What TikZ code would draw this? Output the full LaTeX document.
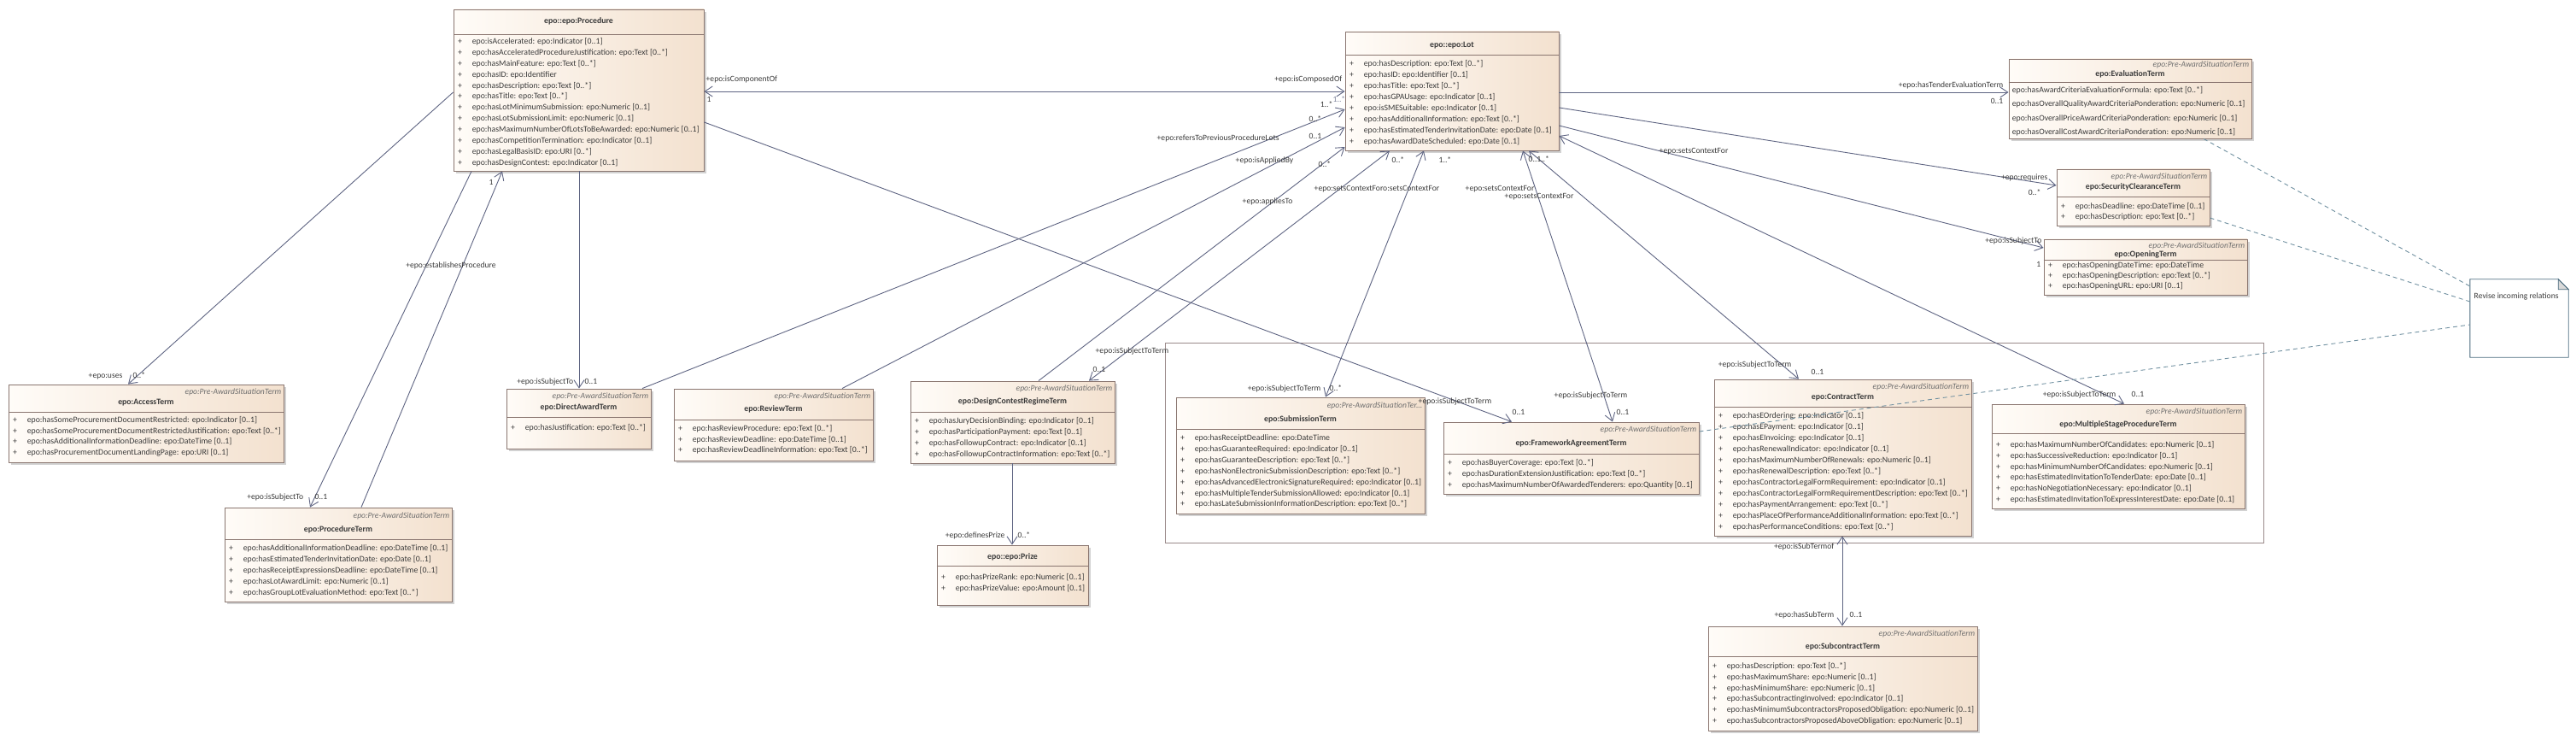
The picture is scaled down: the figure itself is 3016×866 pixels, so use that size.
\documentclass[tikz,border=0pt]{standalone}
\usepackage{fontspec}
\setmainfont{Carlito}
\usetikzlibrary{arrows.meta,fit,calc}
\definecolor{boxL}{HTML}{FFFCF8}
\definecolor{boxR}{HTML}{F3E1CF}
\definecolor{boxB}{HTML}{8A7670}
\definecolor{shad}{HTML}{D2D2D2}
\definecolor{txtc}{HTML}{3A3A3A}
\definecolor{stc}{HTML}{6E6E6E}
\definecolor{conc}{HTML}{5E6482}
\definecolor{dashc}{HTML}{7090A0}
\definecolor{frm}{HTML}{9A8A8A}
\definecolor{notb}{HTML}{4E6E80}
\tikzset{
  >={Straight Barb[length=9pt,width=12pt]},
  con/.style={draw=conc, line width=0.9pt},
  dsh/.style={draw=dashc, line width=0.9pt, dash pattern=on 5pt off 4pt},
  lbl/.style={inner sep=0.5pt, text=txtc, font=\fontsize{9.6}{11}\selectfont, text height=7pt, text depth=2pt},
  rowt/.style={inner sep=0pt, text=txtc, font=\fontsize{9.8}{11}\selectfont, text height=7pt, text depth=2pt},
  stereo/.style={inner sep=0pt, text=stc, font=\fontsize{9.6}{11}\selectfont\itshape, text height=7pt, text depth=2pt},
  ttl/.style={inner sep=0pt, text=txtc, font=\fontsize{9.8}{11}\selectfont\bfseries, text height=7pt, text depth=2pt},
}
\newcommand{\cbox}[5]{%
  \fill[shad] ({#2+3},{#3+3}) rectangle ({#4+3},{#5+3});
  \path[left color=boxL,right color=boxR] (#2,#3) rectangle (#4,#5);
  \node[draw=boxB, line width=0.9pt, inner sep=0pt, fit={(#2,#3) (#4,#5)}] (#1) {};
}
\newcommand{\cheadX}[6]{%
  \node[stereo, anchor=east, xshift=-3pt] (#1st) at (#1.east |- 0,#2) {#6};
  \node[ttl] (#1tt) at (#1.center |- 0,#3) {#5};
  \draw[draw=boxB, line width=0.9pt] (#1.west |- 0,#4) -- (#1.east |- 0,#4);
}
\newcommand{\cheadS}[5]{\cheadX{#1}{#2}{#3}{#4}{#5}{epo:Pre-AwardSituationTerm}}
\newcommand{\cheadN}[4]{%
  \node[ttl] (#1tt) at (#1.center |- 0,#2) {#4};
  \draw[draw=boxB, line width=0.9pt] (#1.west |- 0,#3) -- (#1.east |- 0,#3);
}
\newcommand{\crows}[4]{%
  \foreach \r [count=\i] in {#4} {
    \pgfmathsetmacro\yy{#2+(\i-1)*#3}
    \node[rowt, xshift=8pt] (#1p\i) at (#1.west |- 0,\yy) {+};
    \node[rowt, anchor=west, xshift=22pt] (#1r\i) at (#1.west |- 0,\yy) {\r};
  }
}
\newcommand{\crowsN}[4]{%
  \foreach \r [count=\i] in {#4} {
    \pgfmathsetmacro\yy{#2+(\i-1)*#3}
    \node[rowt, anchor=west, xshift=4pt] (#1r\i) at (#1.west |- 0,\yy) {\r};
  }
}
\begin{document}
\begin{tikzpicture}[x=1pt,y=-1pt]
\useasboundingbox (0,0) rectangle (3016,866);
\fill[white] (0,0) rectangle (3016,866);

% frame
\node[draw=frm, line width=0.8pt, inner sep=0pt, fit={(1364,401) (2650,635)}] (frame) {};

% ---------- boxes ----------
\cbox{proc}{531}{11}{824}{200}
\cheadN{proc}{25}{40}{epo::epo:Procedure}
\crows{proc}{49}{12.9}{epo:isAccelerated: epo:Indicator [0..1],epo:hasAcceleratedProcedureJustification: epo:Text [0..*],epo:hasMainFeature: epo:Text [0..*],epo:hasID: epo:Identifier,epo:hasDescription: epo:Text [0..*],epo:hasTitle: epo:Text [0..*],epo:hasLotMinimumSubmission: epo:Numeric [0..1],epo:hasLotSubmissionLimit: epo:Numeric [0..1],epo:hasMaximumNumberOfLotsToBeAwarded: epo:Numeric [0..1],epo:hasCompetitionTermination: epo:Indicator [0..1],epo:hasLegalBasisID: epo:URI [0..*],epo:hasDesignContest: epo:Indicator [0..1]}

\cbox{lot}{1575}{37}{1825}{176}
\cheadN{lot}{53}{64}{epo::epo:Lot}
\crows{lot}{75}{13}{epo:hasDescription: epo:Text [0..*],epo:hasID: epo:Identifier [0..1],epo:hasTitle: epo:Text [0..*],epo:hasGPAUsage: epo:Indicator [0..1],epo:isSMESuitable: epo:Indicator [0..1],epo:hasAdditionalInformation: epo:Text [0..*],epo:hasEstimatedTenderInvitationDate: epo:Date [0..1],epo:hasAwardDateScheduled: epo:Date [0..1]}

\cbox{evalt}{2352}{69}{2636}{162}
\cheadS{evalt}{76}{87}{96}{epo:EvaluationTerm}
\crowsN{evalt}{106}{16.3}{epo:hasAwardCriteriaEvaluationFormula: epo:Text [0..*],epo:hasOverallQualityAwardCriteriaPonderation: epo:Numeric [0..1],epo:hasOverallPriceAwardCriteriaPonderation: epo:Numeric [0..1],epo:hasOverallCostAwardCriteriaPonderation: epo:Numeric [0..1]}

\cbox{secu}{2408}{198}{2587}{264}
\cheadS{secu}{207}{219}{230}{epo:SecurityClearanceTerm}
\crows{secu}{242}{12}{epo:hasDeadline: epo:DateTime [0..1],epo:hasDescription: epo:Text [0..*]}

\cbox{open}{2393}{280}{2631}{345}
\cheadS{open}{288}{298}{304}{epo:OpeningTerm}
\crows{open}{311}{11.8}{epo:hasOpeningDateTime: epo:DateTime,epo:hasOpeningDescription: epo:Text [0..*],epo:hasOpeningURL: epo:URI [0..1]}

\cbox{acc}{10}{450}{332}{541}
\cheadS{acc}{459}{471}{482}{epo:AccessTerm}
\crows{acc}{492}{12.7}{epo:hasSomeProcurementDocumentRestricted: epo:Indicator [0..1],epo:hasSomeProcurementDocumentRestrictedJustification: epo:Text [0..*],epo:hasAdditionalInformationDeadline: epo:DateTime [0..1],epo:hasProcurementDocumentLandingPage: epo:URI [0..1]}

\cbox{dir}{593}{455}{762}{525}
\cheadS{dir}{464}{477}{488}{epo:DirectAwardTerm}
\crows{dir}{501}{12.7}{epo:hasJustification: epo:Text [0..*]}

\cbox{rev}{789}{455}{1022}{539}
\cheadS{rev}{464}{479}{491}{epo:ReviewTerm}
\crows{rev}{502}{12.7}{epo:hasReviewProcedure: epo:Text [0..*],epo:hasReviewDeadline: epo:DateTime [0..1],epo:hasReviewDeadlineInformation: epo:Text [0..*]}

\cbox{dcr}{1066}{446}{1305}{542}
\cheadS{dcr}{455}{470}{482}{epo:DesignContestRegimeTerm}
\crows{dcr}{493}{12.9}{epo:hasJuryDecisionBinding: epo:Indicator [0..1],epo:hasParticipationPayment: epo:Text [0..1],epo:hasFollowupContract: epo:Indicator [0..1],epo:hasFollowupContractInformation: epo:Text [0..*]}

\cbox{prize}{1097}{638}{1274}{708}
\cheadN{prize}{652}{662}{epo::epo:Prize}
\crows{prize}{676}{12.7}{epo:hasPrizeRank: epo:Numeric [0..1],epo:hasPrizeValue: epo:Amount [0..1]}

\cbox{subm}{1377}{465}{1668}{601}
\cheadX{subm}{475}{491}{502}{epo:SubmissionTerm}{epo:Pre-AwardSituationTer...}
\crows{subm}{513}{12.9}{epo:hasReceiptDeadline: epo:DateTime,epo:hasGuaranteeRequired: epo:Indicator [0..1],epo:hasGuaranteeDescription: epo:Text [0..*],epo:hasNonElectronicSubmissionDescription: epo:Text [0..*],epo:hasAdvancedElectronicSignatureRequired: epo:Indicator [0..1],epo:hasMultipleTenderSubmissionAllowed: epo:Indicator [0..1],epo:hasLateSubmissionInformationDescription: epo:Text [0..*]}

\cbox{fwk}{1690}{494}{1989}{578}
\cheadS{fwk}{503}{519}{531}{epo:FrameworkAgreementTerm}
\crows{fwk}{542}{13}{epo:hasBuyerCoverage: epo:Text [0..*],epo:hasDurationExtensionJustification: epo:Text [0..*],epo:hasMaximumNumberOfAwardedTenderers: epo:Quantity [0..1]}

\cbox{ctr}{2007}{444}{2308}{627}
\cheadS{ctr}{453}{465}{476}{epo:ContractTerm}
\crows{ctr}{487}{13}{epo:hasEOrdering: epo:Indicator [0..1],epo:hasEPayment: epo:Indicator [0..1],epo:hasEInvoicing: epo:Indicator [0..1],epo:hasRenewalIndicator: epo:Indicator [0..1],epo:hasMaximumNumberOfRenewals: epo:Numeric [0..1],epo:hasRenewalDescription: epo:Text [0..*],epo:hasContractorLegalFormRequirement: epo:Indicator [0..1],epo:hasContractorLegalFormRequirementDescription: epo:Text [0..*],epo:hasPaymentArrangement: epo:Text [0..*],epo:hasPlaceOfPerformanceAdditionalInformation: epo:Text [0..*],epo:hasPerformanceConditions: epo:Text [0..*]}

\cbox{msp}{2332}{473}{2628}{595}
\cheadS{msp}{482}{497}{507}{epo:MultipleStageProcedureTerm}
\crows{msp}{521}{12.8}{epo:hasMaximumNumberOfCandidates: epo:Numeric [0..1],epo:hasSuccessiveReduction: epo:Indicator [0..1],epo:hasMinimumNumberOfCandidates: epo:Numeric [0..1],epo:hasEstimatedInvitationToTenderDate: epo:Date [0..1],epo:hasNoNegotiationNecessary: epo:Indicator [0..1],epo:hasEstimatedInvitationToExpressInterestDate: epo:Date [0..1]}

\cbox{subc}{2000}{733}{2315}{855}
\cheadS{subc}{742}{757}{768}{epo:SubcontractTerm}
\crows{subc}{780}{12.8}{epo:hasDescription: epo:Text [0..*],epo:hasMaximumShare: epo:Numeric [0..1],epo:hasMinimumShare: epo:Numeric [0..1],epo:hasSubcontractingInvolved: epo:Indicator [0..1],epo:hasMinimumSubcontractorsProposedObligation: epo:Numeric [0..1],epo:hasSubcontractorsProposedAboveObligation: epo:Numeric [0..1]}

\cbox{pterm}{263}{594}{529}{704}
\cheadS{pterm}{604}{620}{631}{epo:ProcedureTerm}
\crows{pterm}{642}{13}{epo:hasAdditionalInformationDeadline: epo:DateTime [0..1],epo:hasEstimatedTenderInvitationDate: epo:Date [0..1],epo:hasReceiptExpressionsDeadline: epo:DateTime [0..1],epo:hasLotAwardLimit: epo:Numeric [0..1],epo:hasGroupLotEvaluationMethod: epo:Text [0..*]}

% note
\node[inner sep=0pt, fit={(2892,327) (3007,418)}] (note) {};
\draw[notb, fill=white, line width=0.9pt] (note.north west) -- ([xshift=-12pt]note.north east) -- ([yshift=-12pt]note.north east) -- (note.south east) -- (note.south west) -- cycle;
\filldraw[fill=gray!30, draw=notb, line width=0.9pt] ([xshift=-12pt]note.north east) -- ([xshift=-12pt,yshift=-12pt]note.north east) -- ([yshift=-12pt]note.north east) -- cycle;
\node[lbl, anchor=west, font=\fontsize{9.6}{11}\selectfont] (notetxt) at (2896,347) {Revise incoming relations};

% ---------- connectors ----------
\draw[con,<->] (proc.east |- 0,107) -- (lot.west |- 0,107);
\draw[con,->] (proc.west |- 0,108) -- (acc.north -| 150,0);
\draw[con,->] (proc.south -| 678,0) -- (dir.north -| 678,0);
\draw[con,->] (proc.south -| 552,0) -- (pterm.north -| 363,0);
\draw[con,->] (pterm.north -| 423,0) -- (proc.south -| 588,0);
\draw[con,->] (proc.east |- 0,143) -- (fwk.north -| 1770,0);
\draw[con,->] (dir.north -| 752,0) -- (lot.west |- 0,128);
\draw[con,->] (rev.north -| 986,0) -- (lot.west |- 0,149);
\draw[con,->] (dcr.north -| 1216,0) -- (lot.west |- 0,172);
\draw[con,<->] (lot.south -| 1627,0) -- (dcr.north -| 1275,0);
\draw[con,<->] (lot.south -| 1667,0) -- (subm.north -| 1552,0);
\draw[con,<->] (lot.south -| 1783,0) -- (fwk.north -| 1888,0);
\draw[con,<->] (lot.south -| 1790,0) -- (ctr.north -| 2106,0);
\draw[con,->] (lot.east |- 0,108) -- (evalt.west |- 0,108);
\draw[con,->] (lot.east |- 0,126) -- (secu.west |- 0,217);
\draw[con,->] (lot.east |- 0,147) -- (open.west |- 0,290);
\draw[con,<->] (lot.east |- 0,159) -- (msp.north -| 2487,0);
\draw[con,->] (dcr.south -| 1185,0) -- (prize.north -| 1185,0);
\draw[con,<->] (ctr.south -| 2157,0) -- (subc.north -| 2157,0);

% dashed note links
\draw[dsh] (evalt.south -| 2580,0) -- (note.west |- 0,335);
\draw[dsh] (secu.east |- 0,255) -- (note.west |- 0,353);
\draw[dsh] (fwk.east |- 0,505) -- (note.west |- 0,380);

% ---------- labels ----------
\node[lbl, anchor=west] (l1) at (826,93) {+epo:isComponentOf};
\node[lbl, anchor=west] (l2) at (827,117) {1};
\node[lbl, anchor=east] (l3) at (1572,93) {+epo:isComposedOf};
\node[lbl, anchor=east] (l4) at (1561,123) {1..*};
\node[lbl, anchor=west, text=conc!80] (l5) at (1560,117) {1..*};
\node[lbl, anchor=west] (l6) at (1532,140) {0..*};
\node[lbl, anchor=west] (l7) at (1354,162) {+epo:refersToPreviousProcedureLots};
\node[lbl, anchor=west] (l8) at (1532,160) {0..1};
\node[lbl, anchor=west] (l9) at (1446,188) {+epo:isAppliedBy};
\node[lbl, anchor=west] (l10) at (1543,193) {0..*};
\node[lbl, anchor=west] (l11) at (1454,236) {+epo:appliesTo};
\node[lbl, anchor=west] (l12) at (1629,188) {0..*};
\node[lbl, anchor=west] (l13) at (1684,188) {1..*};
\node[lbl, anchor=west] (l14) at (1538,221) {+epo:setsContextForo:setsContextFor};
\node[lbl, anchor=west] (l15) at (1789,187) {0..1..*};
\node[lbl, anchor=west] (l16) at (1715,221) {+epo:setsContextFor};
\node[lbl, anchor=west] (l17) at (1761,230) {+epo:setsContextFor};
\node[lbl, anchor=west] (l18) at (1942,177) {+epo:setsContextFor};
\node[lbl, anchor=east] (l19) at (2346,100) {+epo:hasTenderEvaluationTerm};
\node[lbl, anchor=east] (l20) at (2346,119) {0..1};
\node[lbl, anchor=east] (l21) at (2398,208) {+epo:requires};
\node[lbl, anchor=east] (l22) at (2390,226) {0..*};
\node[lbl, anchor=east] (l23) at (2391,282) {+epo:isSubjectTo};
\node[lbl, anchor=east] (l24) at (2390,310) {1};
\node[lbl, anchor=east] (l25) at (2478,462) {+epo:isSubjectToTerm};
\node[lbl, anchor=west] (l26) at (2495,462) {0..1};
\node[lbl, anchor=east] (l27) at (2098,427) {+epo:isSubjectToTerm};
\node[lbl, anchor=west] (l28) at (2120,436) {0..1};
\node[lbl, anchor=west] (l29) at (1819,463) {+epo:isSubjectToTerm};
\node[lbl, anchor=west] (l30) at (1892,483) {0..1};
\node[lbl, anchor=west] (l31) at (1660,470) {+epo:isSubjectToTerm};
\node[lbl, anchor=west] (l32) at (1770,483) {0..1};
\node[lbl, anchor=east] (l33) at (1547,455) {+epo:isSubjectToTerm};
\node[lbl, anchor=west] (l34) at (1556,455) {0..*};
\node[lbl, anchor=west] (l35) at (1282,411) {+epo:isSubjectToTerm};
\node[lbl, anchor=west] (l36) at (1279,433) {0..1};
\node[lbl, anchor=east] (l37) at (1177,627) {+epo:definesPrize};
\node[lbl, anchor=west] (l38) at (1191,627) {0..*};
\node[lbl, anchor=east] (l39) at (2148,640) {+epo:isSubTermof};
\node[lbl, anchor=east] (l40) at (2148,720) {+epo:hasSubTerm};
\node[lbl, anchor=west] (l41) at (2165,720) {0..1};
\node[lbl, anchor=east] (l42) at (144,440) {+epo:uses};
\node[lbl, anchor=west] (l43) at (155,440) {0..*};
\node[lbl, anchor=east] (l44) at (672,447) {+epo:isSubjectTo};
\node[lbl, anchor=west] (l45) at (684,447) {0..1};
\node[lbl, anchor=east] (l46) at (356,582) {+epo:isSubjectTo};
\node[lbl, anchor=west] (l47) at (368,582) {0..1};
\node[lbl] (l48) at (528,311) {+epo:establishesProcedure};
\node[lbl] (l49) at (575,214) {1};
\end{tikzpicture}
\end{document}
